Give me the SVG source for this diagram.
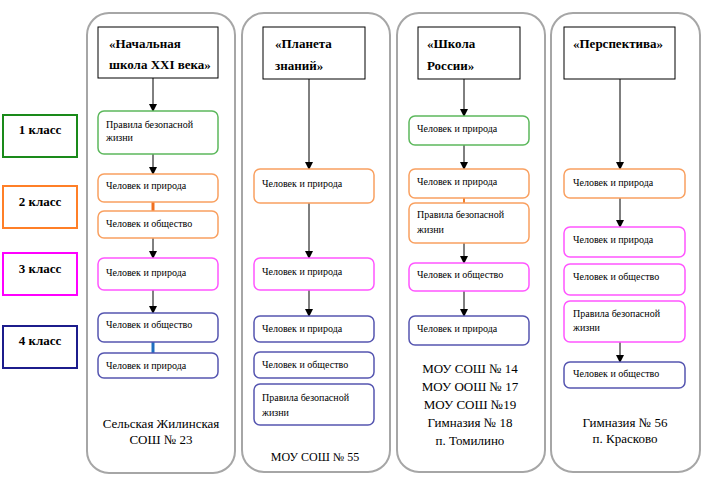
<svg xmlns="http://www.w3.org/2000/svg" width="711" height="482" viewBox="0 0 711 482">
<defs>
<marker id="ah" markerWidth="8" markerHeight="8" refX="7" refY="4" orient="auto" markerUnits="userSpaceOnUse">
<path d="M0,0 L8,4 L0,8 Z" fill="#000"/>
</marker>
<style>
.col{fill:#fff;stroke:#a6a6a6;stroke-width:2}
.title{fill:#fff;stroke:#000;stroke-width:1}
.tt{font-family:"Liberation Serif","Times New Roman",serif;font-size:13px;font-weight:bold;fill:#000}
.cls{fill:#fff;stroke-width:2}
.ct{font-family:"Liberation Serif","Times New Roman",serif;font-size:13px;font-weight:bold;fill:#000;text-anchor:middle}
.bx{fill:#fff;stroke-width:1.5}
.g{stroke:#5cb85c}.o{stroke:#f9a060}.p{stroke:#ff55ff}.b{stroke:#5555b0}
.t{font-family:"Liberation Serif","Times New Roman",serif;font-size:10px;fill:#000}
.bt{font-family:"Liberation Serif","Times New Roman",serif;font-size:13px;fill:#000;text-anchor:middle}
.ar{stroke:#000;stroke-width:1;fill:none;marker-end:url(#ah)}
</style>
</defs>
<rect width="711" height="482" fill="#fff"/>

<g id="classes">
<g id="c1"><rect class="cls" x="3" y="115" width="74" height="42" stroke="#1a8a1a"/><text class="ct" x="40" y="134">1 класс</text></g>
<g id="c2"><rect class="cls" x="3" y="186" width="74" height="42" stroke="#ff7f27"/><text class="ct" x="40" y="206">2 класс</text></g>
<g id="c3"><rect class="cls" x="3" y="253" width="74" height="42" stroke="#ff00ff"/><text class="ct" x="40" y="273">3 класс</text></g>
<g id="c4"><rect class="cls" x="3" y="326" width="74" height="42" stroke="#1c1c8c"/><text class="ct" x="40" y="345">4 класс</text></g>
</g>

<g id="columns">
<rect class="col" x="87" y="13" width="148" height="460" rx="22"/>
<rect class="col" x="242" y="13" width="148" height="459" rx="22"/>
<rect class="col" x="397" y="13" width="148" height="459" rx="22"/>
<rect class="col" x="551" y="13" width="149" height="459" rx="22"/>
</g>

<g id="connectors">
<line class="ar" x1="153" y1="78" x2="153" y2="111"/>
<line class="ar" x1="153" y1="154" x2="153" y2="174"/>
<line x1="153" y1="202" x2="153" y2="211" stroke="#f07020" stroke-width="3"/>
<line class="ar" x1="153" y1="238" x2="153" y2="258"/>
<line class="ar" x1="153" y1="290" x2="153" y2="313"/>
<line x1="153" y1="342" x2="153" y2="353" stroke="#1f6fc0" stroke-width="3"/>

<line class="ar" x1="309" y1="79" x2="309" y2="169"/>
<line class="ar" x1="309" y1="203" x2="309" y2="258"/>
<line class="ar" x1="309" y1="290" x2="309" y2="316"/>

<line class="ar" x1="464" y1="79" x2="464" y2="116"/>
<line class="ar" x1="464" y1="145" x2="464" y2="169"/>
<line x1="464" y1="198" x2="464" y2="203" stroke="#f08030" stroke-width="2"/>
<line class="ar" x1="464" y1="243" x2="464" y2="263"/>
<line class="ar" x1="464" y1="291" x2="464" y2="316"/>

<line class="ar" x1="620" y1="79" x2="620" y2="169"/>
<line class="ar" x1="620" y1="198" x2="620" y2="227"/>
<line class="ar" x1="620" y1="342" x2="620" y2="362"/>
</g>

<g id="col1">
<g id="t1"><rect class="title" x="98" y="27" width="120" height="51"/><text class="tt" x="109" y="48">«Начальная</text><text class="tt" x="109" y="69">школа XXI века»</text></g>
<g id="n1a"><rect class="bx g" x="98" y="111" width="120" height="43" rx="6"/><text class="t" x="106" y="128">Правила безопасной</text><text class="t" x="106" y="141">жизни</text></g>
<g id="n1b"><rect class="bx o" x="98" y="174" width="120" height="28" rx="6"/><text class="t" x="106" y="189">Человек и природа</text></g>
<g id="n1c"><rect class="bx o" x="98" y="211" width="120" height="27" rx="6"/><text class="t" x="106" y="227">Человек и общество</text></g>
<g id="n1d"><rect class="bx p" x="98" y="258" width="120" height="32" rx="6"/><text class="t" x="106" y="276">Человек и природа</text></g>
<g id="n1e"><rect class="bx b" x="98" y="313" width="120" height="29" rx="6"/><text class="t" x="106" y="328">Человек и общество</text></g>
<g id="n1f"><rect class="bx b" x="98" y="353" width="120" height="25" rx="6"/><text class="t" x="106" y="369">Человек и природа</text></g>
<text class="bt" x="161" y="428">Сельская Жилинская</text>
<text class="bt" x="161" y="444">СОШ № 23</text>
</g>

<g id="col2">
<g id="t2"><rect class="title" x="263" y="27" width="102" height="52"/><text class="tt" x="275" y="48">«Планета</text><text class="tt" x="275" y="70">знаний»</text></g>
<g id="n2a"><rect class="bx o" x="254" y="169" width="120" height="34" rx="6"/><text class="t" x="262" y="187">Человек и природа</text></g>
<g id="n2b"><rect class="bx p" x="254" y="258" width="120" height="32" rx="6"/><text class="t" x="262" y="275">Человек и природа</text></g>
<g id="n2c"><rect class="bx b" x="254" y="316" width="120" height="26" rx="6"/><text class="t" x="262" y="332">Человек и природа</text></g>
<g id="n2d"><rect class="bx b" x="254" y="352" width="120" height="26" rx="6"/><text class="t" x="262" y="368">Человек и общество</text></g>
<g id="n2e"><rect class="bx b" x="254" y="384" width="120" height="41" rx="6"/><text class="t" x="262" y="401">Правила безопасной</text><text class="t" x="262" y="416">жизни</text></g>
<text class="bt" x="315" y="461" style="font-size:12px">МОУ СОШ № 55</text>
</g>

<g id="col3">
<g id="t3"><rect class="title" x="418" y="27" width="102" height="52"/><text class="tt" x="427" y="48">«Школа</text><text class="tt" x="427" y="70">России»</text></g>
<g id="n3a"><rect class="bx g" x="409" y="116" width="120" height="29" rx="6"/><text class="t" x="417" y="132">Человек и природа</text></g>
<g id="n3b"><rect class="bx o" x="409" y="169" width="120" height="29" rx="6"/><text class="t" x="417" y="185">Человек и природа</text></g>
<g id="n3c"><rect class="bx o" x="409" y="203" width="120" height="40" rx="6"/><text class="t" x="417" y="218">Правила безопасной</text><text class="t" x="417" y="233">жизни</text></g>
<g id="n3d"><rect class="bx p" x="409" y="263" width="120" height="28" rx="6"/><text class="t" x="417" y="278">Человек и общество</text></g>
<g id="n3e"><rect class="bx b" x="409" y="316" width="120" height="29" rx="6"/><text class="t" x="417" y="332">Человек и природа</text></g>
<text class="bt" x="470" y="373">МОУ СОШ № 14</text>
<text class="bt" x="470" y="391">МОУ ООШ № 17</text>
<text class="bt" x="470" y="409">МОУ СОШ №19</text>
<text class="bt" x="470" y="427">Гимназия № 18</text>
<text class="bt" x="470" y="445">п. Томилино</text>
</g>

<g id="col4">
<g id="t4"><rect class="title" x="564" y="27" width="111" height="52"/><text class="tt" x="573" y="48">«Перспектива»</text></g>
<g id="n4a"><rect class="bx o" x="564" y="169" width="121" height="29" rx="6"/><text class="t" x="573" y="186">Человек и природа</text></g>
<g id="n4b"><rect class="bx p" x="564" y="227" width="121" height="30" rx="6"/><text class="t" x="573" y="243">Человек и природа</text></g>
<g id="n4c"><rect class="bx p" x="564" y="264" width="121" height="31" rx="6"/><text class="t" x="573" y="280">Человек и общество</text></g>
<g id="n4d"><rect class="bx p" x="564" y="301" width="121" height="41" rx="6"/><text class="t" x="573" y="317">Правила безопасной</text><text class="t" x="573" y="331">жизни</text></g>
<g id="n4e"><rect class="bx b" x="564" y="362" width="121" height="26" rx="6"/><text class="t" x="573" y="377">Человек и общество</text></g>
<text class="bt" x="625" y="427">Гимназия № 56</text>
<text class="bt" x="625" y="443">п. Красково</text>
</g>
</svg>
